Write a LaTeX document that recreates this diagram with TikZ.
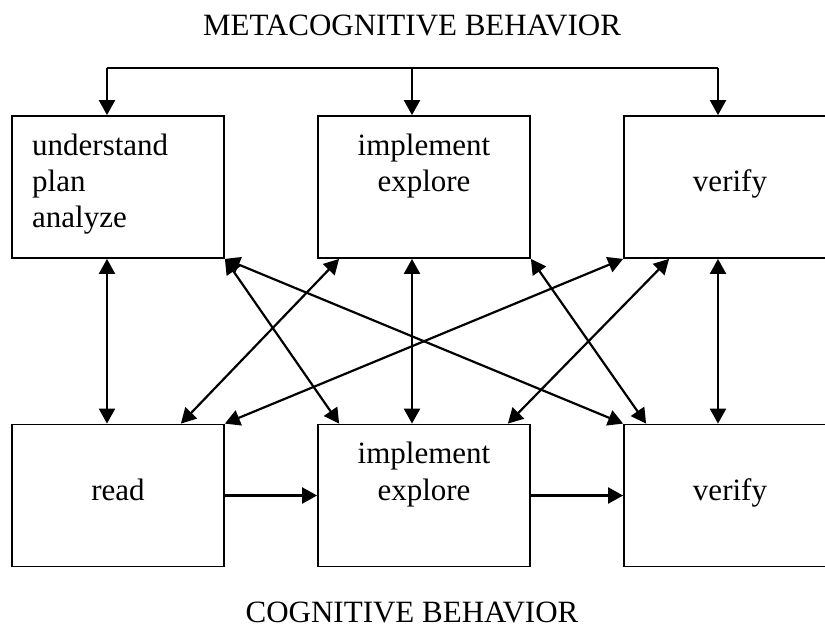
\documentclass[tikz,border=0pt]{standalone}
\usepackage{fontspec}
\setmainfont{Liberation Serif}
\usetikzlibrary{arrows.meta}

\begin{document}
\begin{tikzpicture}[
  x=1pt, y=-1pt,
  every node/.style={font=\fontsize{31}{36}\selectfont},
  stagebox/.style={draw, line width=1.8pt, minimum width=212pt, minimum height=142pt, inner sep=0pt},
  word/.style={inner sep=0pt, anchor=base},
  tip/.tip={Triangle[length=15pt,width=16pt]},
  flow/.style={line width=2.2pt, -tip},
  twoway/.style={line width=2.2pt, tip-tip}
]
\path[use as bounding box, clip] (0,0) rectangle (825,630);

% headings
\node[word] (metaTitle) at (412,35) {METACOGNITIVE BEHAVIOR};
\node[word] (cogTitle) at (412,622) {COGNITIVE BEHAVIOR};

% metacognitive row
\node[stagebox] (mU) at (118,187) {};
\node[stagebox] (mI) at (424,187) {};
\node[stagebox] (mV) at (730,187) {};

% cognitive row
\node[stagebox] (cR) at (118,495.5) {};
\node[stagebox] (cI) at (424,495.5) {};
\node[stagebox] (cV) at (730,495.5) {};

% box texts
\node[word, anchor=base west] (tU1) at (32,155) {understand};
\node[word, anchor=base west] (tU2) at (32,191) {plan};
\node[word, anchor=base west] (tU3) at (32,227) {analyze};
\node[word] (tI1) at (424,155) {implement};
\node[word] (tI2) at (424,191) {explore};
\node[word] (tV) at (730,191) {verify};
\node[word] (bR) at (118,500) {read};
\node[word] (bI1) at (424,463) {implement};
\node[word] (bI2) at (424,500) {explore};
\node[word] (bV) at (730,500) {verify};

% control bar above the metacognitive row
\coordinate (jL) at (107,68);
\coordinate (jM) at (412,68);
\coordinate (jR) at (718,68);
\draw[line width=2.2pt] (jL) -- (jR);
\draw[flow] (jL) -- (jL |- mU.north);
\draw[flow] (jM) -- (jM |- mI.north);
\draw[flow] (jR) -- (jR |- mV.north);

% vertical links between the rows
\draw[twoway] (jL |- mU.south) -- (jL |- cR.north);
\draw[twoway] (jM |- mI.south) -- (jM |- cI.north);
\draw[twoway] (jR |- mV.south) -- (jR |- cV.north);

% cognitive sequence
\draw[flow] (cR.east) -- (cI.west);
\draw[flow] (cI.east) -- (cV.west);

% crossing links
\draw[twoway] (mU.south east) -- ([xshift=22pt]cI.north west);
\draw[twoway] (mU.south east) -- (cV.north west);
\draw[twoway] ([xshift=22pt]mI.south west) -- ([xshift=-44pt]cR.north east);
\draw[twoway] (mV.south west) -- (cR.north east);
\draw[twoway] (mI.south east) -- ([xshift=23pt]cV.north west);
\draw[twoway] ([xshift=46pt]mV.south west) -- ([xshift=-23pt]cI.north east);
\end{tikzpicture}
\end{document}
